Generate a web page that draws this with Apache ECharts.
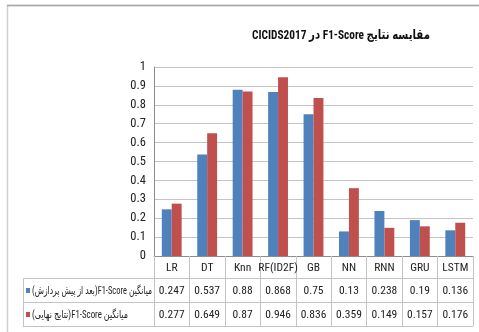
<!DOCTYPE html>
<html>
<head>
<meta charset="utf-8">
<script src="https://cdn.jsdelivr.net/npm/echarts@6/dist/echarts.min.js"></script>
<style>
html,body{margin:0;padding:0;background:#fff;}
#c{width:479px;height:332px;}
</style>
</head>
<body>
<div id="c"></div>
<script>
const titleText = 'مقایسه نتایج F1-Score در CICIDS2017';
const categories = ['LR','DT','Knn','RF(ID2F)','GB','NN','RNN','GRU','LSTM'];
const seriesNames = ['میانگین F1-Score(بعد از پیش پردازش)', 'میانگین F1-Score(نتایج نهایی)'];
const afterPreprocessing = [0.247,0.537,0.88,0.868,0.75,0.13,0.238,0.19,0.136];
const finalResults = [0.277,0.649,0.87,0.946,0.836,0.359,0.149,0.157,0.176];
const yTicks = {min:0, max:1, interval:0.1};

const FONT = '"Roboto Condensed","DejaVu Sans Condensed",sans-serif';
const RLI = '\u2067', PDI = '\u2069';
const colors = ['#4f81bd','#c0504d'];

const W = 479, H = 332;
const G = {left:154, right:6, top:67, bottom:76};
const plotW = W - G.left - G.right;
const colW = plotW / categories.length;
const axisY = H - G.bottom;
const rowH = [22, 24, 24];
const r1 = axisY + rowH[0], r2 = r1 + rowH[1], r3 = r2 + rowH[2];
const tableLeft = 23;
const lineColor = '#c4c4c4';

const mctx = document.createElement('canvas').getContext('2d');
function fitScale(text, font, target) {
  mctx.font = font;
  const w = mctx.measureText(text).width;
  return w > 0 ? target / w : 1;
}

const chart = echarts.init(document.getElementById('c'), null, {renderer:'canvas'});

const graphic = [];
// outer frame
graphic.push({type:'rect', shape:{x:7.5,y:5.5,width:480,height:340}, style:{fill:null, stroke:'#cfcfcf', lineWidth:1.5}, silent:true});
graphic.push({type:'line', shape:{x1:7,y1:5.5,x2:479,y2:5.5}, style:{stroke:'#a8a8a8', lineWidth:1.5}});
// title
const tFont = 'bold 13.5px ' + FONT;
const tText = RLI + titleText + PDI;
graphic.push({type:'text', x:341, y:36, scaleX:fitScale(tText, tFont, 178), originX:0, originY:0,
  style:{text:tText, font:tFont, fill:'#111', align:'center', verticalAlign:'middle'}});
// horizontal table lines
[r1, r2, r3].forEach(y => graphic.push({type:'line', shape:{x1:tableLeft,y1:y+0.5,x2:W-G.right,y2:y+0.5}, style:{stroke:lineColor,lineWidth:1}}));
graphic.push({type:'line', shape:{x1:tableLeft+0.5,y1:r1,x2:tableLeft+0.5,y2:r3}, style:{stroke:lineColor,lineWidth:1}});
// legend keys and names
const seriesData = [afterPreprocessing, finalResults];
const nameWidths = [120, 96];
seriesNames.forEach((n, i) => {
  const yc = (i === 0 ? (r1 + r2) / 2 : (r2 + r3) / 2) + 1;
  const nFont = '11px ' + FONT;
  const nText = RLI + n + PDI;
  graphic.push({type:'rect', shape:{x:26,y:yc-3,width:4,height:5}, style:{fill:colors[i]}});
  graphic.push({type:'text', x:32, y:yc, scaleX:fitScale(nText, nFont, nameWidths[i]),
    style:{text:nText, font:nFont, fill:'#222', align:'left', verticalAlign:'middle'}});
  seriesData[i].forEach((v, j) => {
    graphic.push({type:'text', x:G.left + colW*(j+0.5), y:yc, style:{text:String(v), font:'11.5px ' + FONT, fill:'#222', align:'center', verticalAlign:'middle'}});
  });
});

chart.setOption({
  animation:false,
  backgroundColor:'#fff',
  grid:{left:G.left, right:G.right, top:G.top, bottom:G.bottom, containLabel:false},
  xAxis:{
    type:'category', data:categories,
    axisLine:{lineStyle:{color:'#8c8c8c'}},
    axisTick:{show:true, length:rowH[0]+rowH[1]+rowH[2], interval:0, lineStyle:{color:lineColor}},
    axisLabel:{fontFamily:FONT, fontSize:11.5, color:'#222', margin:6, interval:0}
  },
  yAxis:{
    type:'value', min:yTicks.min, max:yTicks.max, interval:yTicks.interval,
    axisLine:{show:true, lineStyle:{color:'#8c8c8c'}},
    axisTick:{show:false},
    axisLabel:{fontFamily:FONT, fontSize:12.5, color:'#222', margin:8},
    splitLine:{lineStyle:{color:'#c4c4c4'}}
  },
  series:[
    {name:seriesNames[0], type:'bar', data:afterPreprocessing, barGap:'0%', barCategoryGap:'44%', itemStyle:{color:colors[0]}},
    {name:seriesNames[1], type:'bar', data:finalResults, barGap:'0%', barCategoryGap:'44%', itemStyle:{color:colors[1]}}
  ],
  graphic: graphic
});
</script>
</body>
</html>
